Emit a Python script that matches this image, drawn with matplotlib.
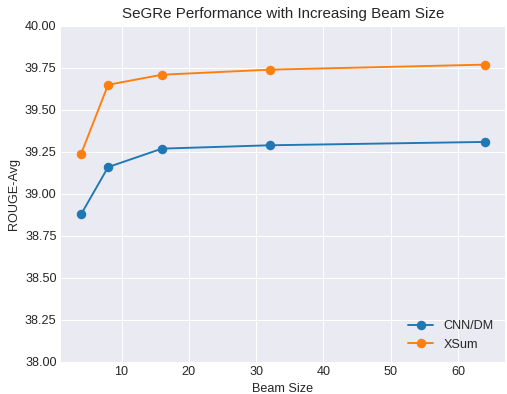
import matplotlib
matplotlib.use("Agg")
import matplotlib.pyplot as plt

beam_sizes = [4, 8, 16, 32, 64]
cnn_dm = [38.88, 39.16, 39.27, 39.29, 39.31]
xsum = [39.24, 39.65, 39.71, 39.74, 39.77]

plt.style.use("seaborn-v0_8-darkgrid")

fig, ax = plt.subplots(figsize=(507 / 91, 394 / 91), dpi=91)
ax.plot(beam_sizes, cnn_dm, marker="o", markersize=6.5, label="CNN/DM", color="#1f77b4")
ax.plot(beam_sizes, xsum, marker="o", markersize=6.5, label="XSum", color="#ff7f0e")

ax.set_ylim(38, 40)
ax.set_yticks([38.0, 38.25, 38.5, 38.75, 39.0, 39.25, 39.5, 39.75, 40.0])
ax.yaxis.set_major_formatter(matplotlib.ticker.FormatStrFormatter("%.2f"))
ax.set_title("SeGRe Performance with Increasing Beam Size")
ax.set_xlabel("Beam Size")
ax.set_ylabel("ROUGE-Avg")
ax.legend(loc="lower right")

fig.subplots_adjust(left=61 / 507, right=505 / 507, top=1 - 26 / 394, bottom=1 - 362 / 394)
plt.savefig("out.png")
